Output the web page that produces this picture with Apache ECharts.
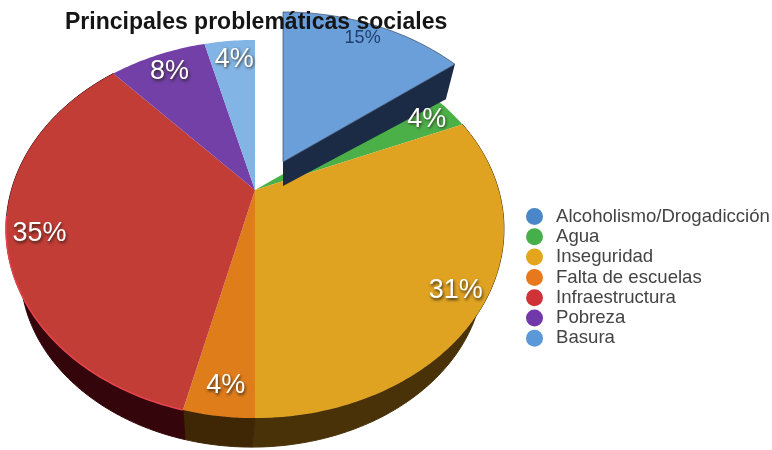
<!DOCTYPE html>
<html><head><meta charset="utf-8">
<style>html,body{margin:0;padding:0;background:#fff}#c{width:772px;height:450px}</style>
<script src="https://cdn.jsdelivr.net/npm/echarts@6/dist/echarts.min.js"></script>
</head><body><div id="c"></div>
<script>
const categories=['Alcoholismo/Drogadicción','Agua','Inseguridad','Falta de escuelas','Infraestructura','Pobreza','Basura'];
const values=[14.6,4,31.4,3.8,34.5,7.7,4];
const topColors=['#6b9fd9','#4bb048','#dfa321','#e07d1b','#c23d36','#7240a6','#82b5e6'];
const wallColors=['#1b2a45',null,'#4a3208','#3f2705','#34060c',null,null];
const legendColors=['#4a86c8','#45b04a','#e2a51c','#e8781c','#cf3338','#7038a8','#5b98d8'];
const labelColors=['#1f3f6e','#fff','#fff','#fff','#fff','#fff','#fff'];
const total=values.reduce((a,b)=>a+b,0);
const apexX=255,apexY=190,sx=243.6,ay=181,persp=0.2063;
const wallDy=45,wallScale=0.93,wallDx=-3;
const explodeDx=28,explodeDy=-28,explodeIndex=0,highlightIndex=4;
function proj(x,y){const d=1+persp*y;return [apexX+sx*x/d,apexY-ay*y/d];}
function rim(t){const a=t/total*Math.PI*2;return proj(Math.sin(a),Math.cos(a));}
function arc(s,e){const n=Math.max(2,Math.ceil((e-s)/total*360));const p=[];for(let i=0;i<=n;i++)p.push(rim(s+(e-s)*i/n));return p;}
const shift=(p,dx,dy)=>[p[0]+dx,p[1]+dy];
const low=p=>[apexX+wallDx+(p[0]-apexX)*wallScale,apexY+wallDy+(p[1]-apexY)*wallScale];
let cum=0;const starts=values.map(v=>{const s=cum;cum+=v;return s;});

function renderTop(i){return function(params,api){
  const s=api.value(0),v=api.value(1);
  const dx=i===explodeIndex?explodeDx:0,dy=i===explodeIndex?explodeDy:0;
  const a=arc(s,s+v);
  const apex=[apexX,apexY];
  const children=[];
  if(i===explodeIndex){
    const e=a[a.length-1];
    const A=shift(apex,dx,dy),E=shift(e,dx,dy);
    children.push({type:'polygon',shape:{points:[A,E,shift(E,-9,35),shift(A,0,24)]},style:{fill:wallColors[i]}});
  }
  const pts=[apex].concat(a).map(p=>shift(p,dx,dy));
  children.push({type:'polygon',shape:{points:pts},style:{fill:topColors[i],stroke:i===explodeIndex?'#24344f':null,lineWidth:i===explodeIndex?0.6:0}});
  if(i===highlightIndex){
    children.push({type:'polyline',shape:{points:arc(s,s+v*0.55)},style:{fill:null,stroke:'#e8434f',lineWidth:1.5}});
  }
  return {type:'group',children};
};}
function renderWall(params,api){
  const i=params.dataIndex;const s=api.value(0),v=api.value(1);
  if(!wallColors[i]||i===explodeIndex)return {type:'group',children:[]};
  const a=arc(s,s+v);
  const pts=a.concat(a.map(low).reverse());
  return {type:'polygon',shape:{points:pts},style:{fill:wallColors[i],stroke:wallColors[i],lineWidth:1}};
}
function renderLabel(params,api){
  const i=params.dataIndex;const s=api.value(0),v=api.value(1);
  const a=(s+v/2)/total*Math.PI*2,r=0.88;
  const p=proj(r*Math.sin(a),r*Math.cos(a));
  const ex=i===explodeIndex;
  const q=ex?shift(p,explodeDx-2,explodeDy-1):shift(p,2,3);
  return {type:'text',style:{x:q[0],y:q[1],text:Math.round(v)+'%',fill:labelColors[i],
    font:(ex?'18':'27')+'px "Liberation Sans",Arial,sans-serif',align:'center',verticalAlign:'middle',
    textShadowColor:ex?'transparent':'rgba(40,30,20,0.85)',textShadowBlur:ex?0:3,textShadowOffsetX:ex?0:1,textShadowOffsetY:ex?0:1.5}};
}
const data=values.map((v,i)=>[starts[i],v]);
const series=[{type:'custom',name:'paredes',coordinateSystem:'none',silent:true,z:1,renderItem:renderWall,data:data,clip:false,animation:false}];
categories.forEach((c,i)=>{
  series.push({type:'custom',name:c,coordinateSystem:'none',z:i===explodeIndex?3:2,renderItem:renderTop(i),
    data:[data[i]],itemStyle:{color:legendColors[i]},clip:false,animation:false});
});
series.push({type:'custom',name:'etiquetas',coordinateSystem:'none',silent:true,z:4,renderItem:renderLabel,data:data,clip:false,animation:false});
const chart=echarts.init(document.getElementById('c'),null,{renderer:'canvas'});
chart.setOption({
  animation:false,backgroundColor:'#fff',
  title:{text:'Principales problemáticas sociales',left:60,top:6,z:10,
    textStyle:{fontFamily:'"Liberation Sans",Arial,sans-serif',fontWeight:'bold',fontSize:23,color:'#151515'}},
  legend:{orient:'vertical',left:521,top:202,data:categories,icon:'circle',itemWidth:17,itemHeight:17,itemGap:1.3,selectedMode:false,
    textStyle:{fontFamily:'"Liberation Sans",Arial,sans-serif',fontSize:18.6,lineHeight:17,color:'#444',padding:[0,0,0,8]}},
  series:series
});
</script></body></html>
